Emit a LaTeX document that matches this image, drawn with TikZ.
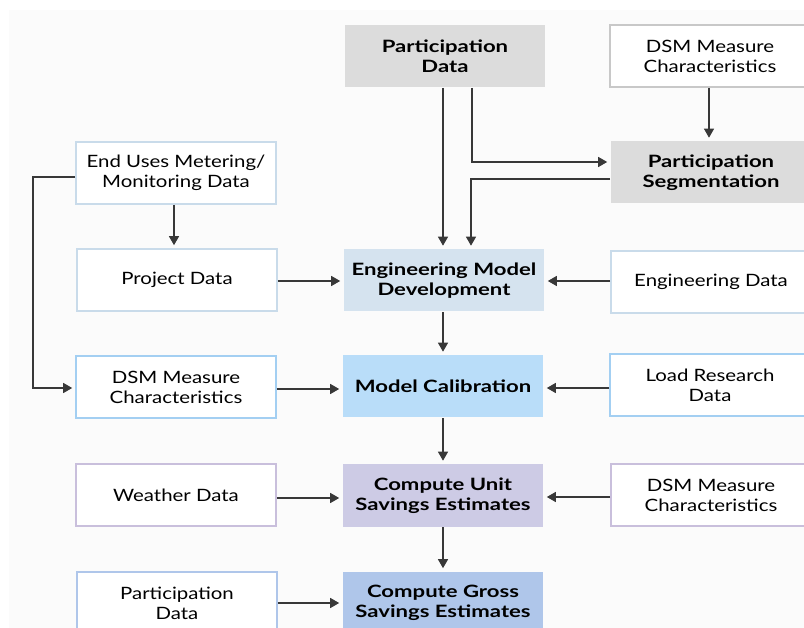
\documentclass[tikz,border=0pt]{standalone}
\usepackage{fontspec}
\setmainfont{Lato}[FakeStretch=1.2, BoldFeatures={FakeStretch=1.3}]
\usetikzlibrary{arrows.meta}
\definecolor{bgc}{HTML}{FBFBFB}
\definecolor{grayfill}{HTML}{DCDCDC}
\definecolor{graybd}{HTML}{C8C8C8}
\definecolor{engfill}{HTML}{D5E3EF}
\definecolor{calfill}{HTML}{B9DDF9}
\definecolor{unitfill}{HTML}{CDCBE5}
\definecolor{grossfill}{HTML}{AFC6EA}
\definecolor{lbbd}{HTML}{C9DBEA}
\definecolor{bbd}{HTML}{A3CFF2}
\definecolor{pbd}{HTML}{C9BFDC}
\definecolor{gbd}{HTML}{AFC6EA}
\definecolor{linec}{HTML}{383838}
\tikzset{
  box/.style={rectangle, minimum width=200pt, minimum height=62pt, align=center,
    inner sep=0pt, font=\fontsize{17}{20}\selectfont, line width=1.6pt},
  mainbox/.style={box, font=\fontsize{17}{20}\selectfont\bfseries},
  arr/.style={draw=linec, line width=1.1pt, -{Triangle[length=9pt,width=10pt]}, shorten >=3pt},
}
\begin{document}
\begin{tikzpicture}[x=1pt,y=-1pt]
\useasboundingbox (0,0) rectangle (804,628);
\fill[bgc] (9,10) rectangle (804,628);
\begin{scope}
\clip (0,0) rectangle (804,628);
\node[mainbox, fill=grayfill] (pd1) at (445,56) {Participation\\Data};
\node[box, draw=graybd, fill=white] (dsm1) at (710,56) {DSM Measure\\Characteristics};
\node[mainbox, fill=grayfill] (seg) at (711,172.5) {Participation\\Segmentation};
\node[box, draw=lbbd, fill=white] (endu) at (176,173) {End Uses Metering/\\Monitoring Data};
\node[box, draw=lbbd, fill=white] (proj) at (177,280) {Project Data};
\node[mainbox, fill=engfill] (eng) at (444,280.5) {Engineering Model\\Development};
\node[box, draw=lbbd, fill=white] (engd) at (711,282) {Engineering Data};
\node[box, draw=bbd, fill=white] (dsm2) at (176,387) {DSM Measure\\Characteristics};
\node[mainbox, fill=calfill] (cal) at (443,386.5) {Model Calibration};
\node[box, draw=bbd, fill=white] (load) at (710,385) {Load Research\\Data};
\node[box, draw=pbd, fill=white] (weather) at (176,495) {Weather Data};
\node[mainbox, fill=unitfill] (unit) at (443,495.5) {Compute Unit\\Savings Estimates};
\node[box, draw=pbd, fill=white] (dsm3) at (711,495) {DSM Measure\\Characteristics};
\node[box, draw=gbd, fill=white] (pd2) at (177,603) {Participation\\Data};
\node[mainbox, fill=grossfill] (gross) at (443,603) {Compute Gross\\Savings Estimates};
\end{scope}
% connectors
\draw[arr] ([xshift=-2pt]pd1.south) -- ([xshift=-2pt]pd1.south |- eng.north);
\coordinate (c1) at ([xshift=27pt]pd1.south);
\draw[arr] (c1) |- ([yshift=10.5pt]seg.west);
\coordinate (c2) at ([yshift=-6.5pt]seg.west);
\draw[arr] (c2) -| ([xshift=27pt]eng.north);
\draw[arr] ([xshift=-1pt]dsm1.south) -- ([xshift=-1pt]dsm1.south |- seg.north);
\draw[arr] ([xshift=-2pt]endu.south) -- ([xshift=-2pt]endu.south |- proj.north);
\coordinate (c3) at (33,177);
\draw[arr] ([yshift=-4pt]endu.west) -- (c3) |- ([yshift=-1pt]dsm2.west);
\draw[arr] ([yshift=-1pt]proj.east) -- ([yshift=-1pt]proj.east -| eng.west);
\draw[arr] ([yshift=1pt]engd.west) -- ([yshift=1pt]engd.west -| eng.east);
\draw[arr] ([xshift=-1pt]eng.south) -- ([xshift=-1pt]eng.south |- cal.north);
\draw[arr] ([yshift=-2pt]dsm2.east) -- ([yshift=-2pt]dsm2.east -| cal.west);
\draw[arr] ([yshift=-3pt]load.west) -- ([yshift=-3pt]load.west -| cal.east);
\draw[arr] (cal.south) -- (unit.north);
\draw[arr] ([yshift=-3pt]weather.east) -- ([yshift=-3pt]weather.east -| unit.west);
\draw[arr] ([yshift=-2pt]dsm3.west) -- ([yshift=-2pt]dsm3.west -| unit.east);
\draw[arr] (unit.south) -- (gross.north);
\draw[arr] (pd2.east) -- (pd2.east -| gross.west);
\end{tikzpicture}
\end{document}
